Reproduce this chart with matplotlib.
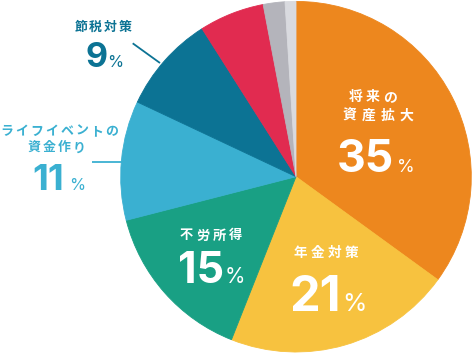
import matplotlib.pyplot as plt

# data
shares = [35, 21, 15, 11, 9, 6, 2, 1]
names = ['将来の資産拡大', '年金対策', '不労所得', 'ライフイベントの資金作り', '節税対策', '', '', '']
colors = ['#ED871E', '#F7C23F', '#19A084', '#3AB0D1', '#0C7394', '#E12B50', '#B4B4BB', '#D9DADF']

W, H = 473, 353
JP = ['Noto Sans CJK JP', 'DejaVu Sans']
NUM = ['Inter', 'DejaVu Sans']


def Y(y):
    # picture rows -> data y
    return H - y


def spaced(ax, cx, cy, s, size, pitch, color):
    # CJK label with a bit of letter spacing, one char at a time
    x0 = cx - (len(s) - 1) * pitch / 2
    for i, ch in enumerate(s):
        ax.text(x0 + i * pitch, Y(cy), ch, fontsize=size, color=color,
                family=JP, fontweight='bold', ha='center', va='center')


def pct(ax, cx, base, num, size, px, psize, color):
    ax.text(cx, Y(base), num, fontsize=size, color=color, family=NUM,
            fontweight='bold', ha='center', va='baseline')
    ax.text(px, Y(base), '%', fontsize=psize, color=color, family=NUM,
            ha='left', va='baseline')


fig = plt.figure(figsize=(W / 100, H / 100), dpi=100)
ax = fig.add_axes([0, 0, 1, 1])
wedges, _ = ax.pie(shares, colors=colors, startangle=90, counterclock=False,
                   center=(296, Y(176.7)), radius=175.3,
                   wedgeprops=dict(linewidth=0.6))
for w in wedges:
    w.set_edgecolor(w.get_facecolor())
ax.set_xlim(0, W)
ax.set_ylim(0, H)
ax.set_aspect('equal')
ax.axis('off')

white = 'white'
# inside labels
spaced(ax, 373, 97, '将来の', 10, 17, white)
spaced(ax, 378, 116, '資産拡大', 10, 19, white)
pct(ax, 365, 171.5, '35', 32, 397, 13, white)

spaced(ax, 326, 253, '年金対策', 9.8, 17.3, white)
pct(ax, 315, 311, '21', 35, 342, 18, white)

spaced(ax, 211, 235.5, '不労所得', 9.5, 16.5, white)
pct(ax, 201, 283.3, '15', 31, 224.5, 15, white)

# outside labels
dark = colors[4]
spaced(ax, 103, 27.5, '節税対策', 9.3, 14.7, dark)
pct(ax, 96.5, 66.7, '9', 24.5, 107.5, 11.8, dark)
ax.plot([132.7, 160], [Y(43.3), Y(63)], color=dark, lw=1.3, solid_capstyle='butt')

light = colors[3]
spaced(ax, 59, 131, 'ライフイベントの', 9.3, 15, light)
spaced(ax, 56.5, 147.5, '資金作り', 9.3, 14.8, light)
pct(ax, 48, 190, '11', 26.5, 69.5, 11.8, light)
ax.plot([91.7, 122.5], [Y(162.3), Y(162.3)], color=light, lw=1.3, solid_capstyle='butt')

fig.savefig('out.png', dpi=100)
